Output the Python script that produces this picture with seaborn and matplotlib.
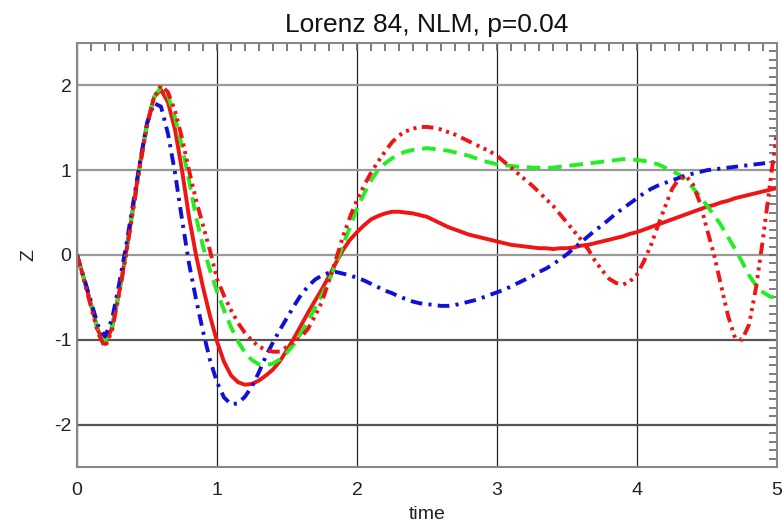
import numpy as np
import pandas as pd
import matplotlib
matplotlib.use('Agg')
import matplotlib.pyplot as plt
import seaborn as sns
from matplotlib.ticker import MultipleLocator

# sampling times (every 0.05)
time = np.round(np.arange(101) * 0.05, 2)

# values, one per time step
z_red_solid = [
    0.00, -0.28, -0.58, -0.89, -1.05, -0.86, -0.45, 0.02, 0.55, 1.08,
    1.55, 1.86, 1.95, 1.80, 1.48, 1.00, 0.45, 0.00, -0.38, -0.72,
    -1.02, -1.26, -1.42, -1.50, -1.53, -1.52, -1.48, -1.42, -1.35, -1.25,
    -1.12, -0.98, -0.83, -0.68, -0.54, -0.40, -0.25, -0.09, 0.06, 0.18,
    0.27, 0.35, 0.42, 0.46, 0.49, 0.51, 0.51, 0.50, 0.49, 0.47,
    0.45, 0.41, 0.37, 0.33, 0.30, 0.27, 0.24, 0.22, 0.20, 0.18,
    0.16, 0.14, 0.12, 0.11, 0.10, 0.09, 0.08, 0.08, 0.07, 0.08,
    0.08, 0.09, 0.11, 0.12, 0.14, 0.16, 0.18, 0.20, 0.22, 0.25,
    0.27, 0.30, 0.33, 0.36, 0.39, 0.42, 0.45, 0.48, 0.51, 0.54,
    0.57, 0.59, 0.62, 0.64, 0.67, 0.69, 0.71, 0.73, 0.75, 0.77,
    0.79]

z_green_dash = [
    0.00, -0.29, -0.59, -0.89, -1.03, -0.84, -0.44, 0.03, 0.55, 1.07,
    1.53, 1.86, 1.98, 1.88, 1.62, 1.28, 0.88, 0.45, 0.10, -0.18,
    -0.43, -0.65, -0.85, -1.02, -1.15, -1.24, -1.29, -1.30, -1.28, -1.23,
    -1.15, -1.05, -0.92, -0.78, -0.62, -0.47, -0.30, -0.10, 0.12, 0.33,
    0.55, 0.72, 0.88, 1.00, 1.08, 1.14, 1.19, 1.22, 1.24, 1.25,
    1.26, 1.25, 1.24, 1.23, 1.21, 1.19, 1.17, 1.14, 1.11, 1.09,
    1.07, 1.06, 1.05, 1.04, 1.04, 1.03, 1.03, 1.03, 1.03, 1.04,
    1.05, 1.06, 1.07, 1.08, 1.09, 1.10, 1.11, 1.12, 1.13, 1.13,
    1.12, 1.11, 1.09, 1.07, 1.03, 0.99, 0.95, 0.88, 0.79, 0.69,
    0.58, 0.47, 0.35, 0.21, 0.07, -0.08, -0.24, -0.36, -0.44, -0.49,
    -0.51]

z_blue_dashdot = [
    0.00, -0.27, -0.55, -0.83, -0.96, -0.76, -0.35, 0.10, 0.60, 1.10,
    1.55, 1.79, 1.75, 1.43, 0.97, 0.42, -0.10, -0.52, -0.90, -1.24,
    -1.50, -1.68, -1.76, -1.75, -1.67, -1.55, -1.38, -1.19, -1.03, -0.88,
    -0.74, -0.60, -0.47, -0.37, -0.29, -0.24, -0.21, -0.20, -0.22, -0.24,
    -0.27, -0.30, -0.34, -0.38, -0.42, -0.45, -0.49, -0.52, -0.55, -0.57,
    -0.58, -0.59, -0.60, -0.60, -0.59, -0.57, -0.55, -0.53, -0.50, -0.47,
    -0.44, -0.41, -0.37, -0.33, -0.29, -0.25, -0.20, -0.16, -0.11, -0.05,
    0.01, 0.08, 0.15, 0.22, 0.29, 0.35, 0.42, 0.49, 0.55, 0.61,
    0.67, 0.73, 0.78, 0.82, 0.85, 0.88, 0.91, 0.94, 0.96, 0.98,
    1.00, 1.01, 1.02, 1.03, 1.04, 1.05, 1.06, 1.07, 1.08, 1.09,
    1.10]

z_red_dashdots = [
    0.00, -0.30, -0.61, -0.92, -1.09, -0.89, -0.47, 0.00, 0.52, 1.05,
    1.52, 1.86, 2.00, 1.92, 1.70, 1.38, 1.00, 0.65, 0.35, 0.05,
    -0.28, -0.48, -0.65, -0.80, -0.92, -1.01, -1.08, -1.12, -1.14, -1.14,
    -1.08, -1.02, -0.97, -0.87, -0.72, -0.55, -0.30, -0.05, 0.22, 0.45,
    0.65, 0.82, 0.97, 1.10, 1.22, 1.33, 1.41, 1.46, 1.49, 1.51,
    1.51, 1.50, 1.48, 1.45, 1.42, 1.38, 1.34, 1.30, 1.26, 1.22,
    1.17, 1.10, 1.03, 0.96, 0.89, 0.82, 0.74, 0.66, 0.58, 0.48,
    0.38, 0.28, 0.18, 0.07, -0.07, -0.18, -0.28, -0.33, -0.35, -0.31,
    -0.23, -0.07, 0.12, 0.35, 0.57, 0.78, 0.90, 0.93, 0.83, 0.61,
    0.30, 0.00, -0.36, -0.72, -0.98, -1.00, -0.82, -0.38, 0.20, 0.85,
    1.47]

run_names = ['red_solid', 'green_dash', 'blue_dashdot', 'red_dashdots']
run_values = [z_red_solid, z_green_dash, z_blue_dashdot, z_red_dashdots]

df = pd.concat([pd.DataFrame({'time': time, 'Z': vals, 'run': name})
                for name, vals in zip(run_names, run_values)], ignore_index=True)

palette = {'red_solid': '#f01414', 'green_dash': '#22ee22',
           'blue_dashdot': '#1010d8', 'red_dashdots': '#f01414'}
dashes = {'red_solid': '', 'green_dash': (3.5, 2.0),
          'blue_dashdot': (3.0, 1.6, 0.8, 1.6),
          'red_dashdots': (3.0, 1.4, 0.8, 1.2, 0.8, 1.2, 0.8, 1.4)}

sns.set_style('white')
plt.rcParams['font.family'] = ['Liberation Sans', 'DejaVu Sans']
plt.rcParams['axes.unicode_minus'] = False

fig = plt.figure(figsize=(7.84, 5.22), dpi=100)
ax = fig.add_axes([0.0982, 0.1054, 0.893, 0.8122])

sns.lineplot(data=df, x='time', y='Z', hue='run', style='run',
             hue_order=run_names, style_order=run_names,
             palette=palette, dashes=dashes, linewidth=2.8,
             estimator=None, sort=False, legend=False, ax=ax)

ax.set_xlim(0, 5)
ax.set_ylim(-2.5, 2.5)
ax.set_xticks([0, 1, 2, 3, 4, 5])
ax.set_yticks([-2, -1, 0, 1, 2])
ax.xaxis.set_minor_locator(MultipleLocator(0.1))
ax.yaxis.set_minor_locator(MultipleLocator(0.1))
ax.tick_params(which='both', direction='in', top=True, right=True,
               length=6, width=1.2, color='#666666')
ax.tick_params(axis='x', which='major', labelsize=14, pad=11, labelcolor='#222222')
ax.tick_params(axis='y', which='major', labelsize=14, pad=4, labelcolor='#222222')

# grid: vertical lines black, upper horizontal lines light, lower ones darker
ax.set_axisbelow(True)
ax.grid(True, which='major')
for gl in ax.get_xgridlines():
    gl.set_color('#222222')
    gl.set_linewidth(0.9)
for gl, val in zip(ax.get_ygridlines(), ax.get_yticks()):
    gl.set_color('#9a9a9a' if val >= 0 else '#555555')
    gl.set_linewidth(1.6)

for sp in ax.spines.values():
    sp.set_color('#888888')
    sp.set_linewidth(1.5)

ax.set_title('Lorenz 84, NLM, p=0.04', fontsize=19, pad=8, color='#111111')
ax.set_xlabel('time', fontsize=14, labelpad=5, color='#222222')
ax.set_ylabel('Z', fontsize=14, labelpad=12, color='#222222')

fig.savefig('out.png', dpi=100)
